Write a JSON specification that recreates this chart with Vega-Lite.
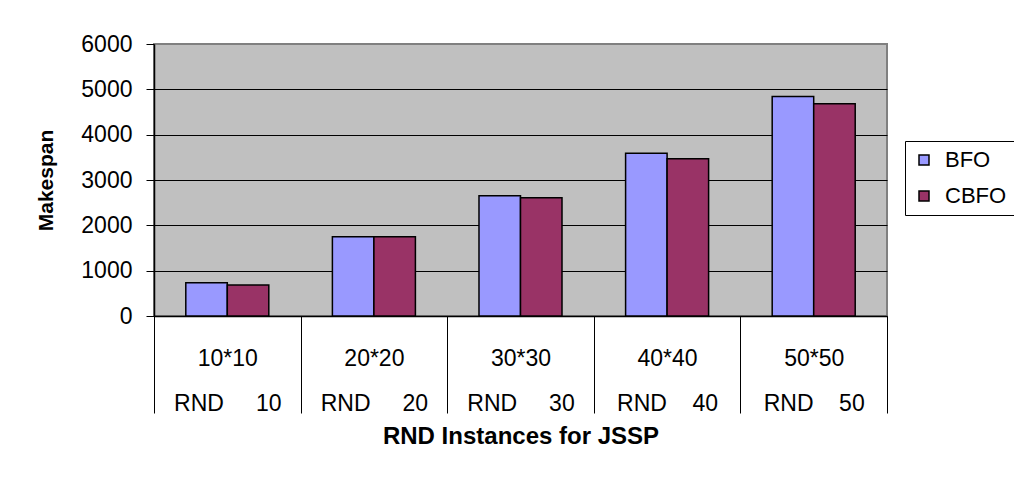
{
  "$schema": "https://vega.github.io/schema/vega-lite/v6.json",
  "width": 733,
  "height": 272,
  "autosize": "none",
  "padding": {"left": 154, "top": 44, "right": 127, "bottom": 163},
  "background": "white",
  "data": {
    "values": [
      {"instance": "10*10|RND\u00a0\u00a0\u00a0\u00a0\u00a010", "algorithm": "BFO", "makespan": 735},
      {"instance": "10*10|RND\u00a0\u00a0\u00a0\u00a0\u00a010", "algorithm": "CBFO", "makespan": 685},
      {"instance": "20*20|RND\u00a0\u00a0\u00a0\u00a0\u00a020", "algorithm": "BFO", "makespan": 1750},
      {"instance": "20*20|RND\u00a0\u00a0\u00a0\u00a0\u00a020", "algorithm": "CBFO", "makespan": 1750},
      {"instance": "30*30|RND\u00a0\u00a0\u00a0\u00a0\u00a030", "algorithm": "BFO", "makespan": 2655},
      {"instance": "30*30|RND\u00a0\u00a0\u00a0\u00a0\u00a030", "algorithm": "CBFO", "makespan": 2610},
      {"instance": "40*40|RND\u00a0\u00a0\u00a0\u00a040", "algorithm": "BFO", "makespan": 3590},
      {"instance": "40*40|RND\u00a0\u00a0\u00a0\u00a040", "algorithm": "CBFO", "makespan": 3470},
      {"instance": "50*50|RND\u00a0\u00a0\u00a0\u00a050", "algorithm": "BFO", "makespan": 4840},
      {"instance": "50*50|RND\u00a0\u00a0\u00a0\u00a050", "algorithm": "CBFO", "makespan": 4680}
    ]
  },
  "mark": {"type": "bar", "stroke": "black", "strokeWidth": 1.5},
  "encoding": {
    "x": {
      "field": "instance",
      "type": "nominal",
      "sort": null,
      "scale": {"paddingInner": 0, "paddingOuter": 0},
      "axis": {
        "title": "RND Instances for JSSP",
        "titleFontSize": 24,
        "titleFontWeight": "bold",
        "titleColor": "black",
        "titlePadding": 9,
        "labelAngle": 0,
        "labelExpr": "datum.value ? split(datum.value, '|') : ''",
        "labelFontSize": 23,
        "labelColor": "black",
        "labelBaseline": "alphabetic",
        "labelLineHeight": 45,
        "labelPadding": -48,
        "tickBand": "extent",
        "tickSize": 97,
        "tickColor": "black",
        "tickWidth": 1,
        "domainColor": "black",
        "domainWidth": 1.5
      }
    },
    "xOffset": {
      "field": "algorithm",
      "type": "nominal",
      "scale": {"paddingInner": 0, "paddingOuter": 0.766}
    },
    "y": {
      "field": "makespan",
      "type": "quantitative",
      "scale": {"domain": [0, 6000], "nice": false},
      "axis": {
        "title": "Makespan",
        "titleFontSize": 21,
        "titleFontWeight": "bold",
        "titleColor": "black",
        "titlePadding": 24,
        "values": [0, 1000, 2000, 3000, 4000, 5000, 6000],
        "format": "d",
        "labelFontSize": 23,
        "labelColor": "black",
        "labelPadding": 14,
        "tickSize": 8,
        "tickColor": "black",
        "domainColor": "black",
        "domainWidth": 1.5,
        "grid": true,
        "gridColor": {"condition": {"test": "datum.value == 6000", "value": "#808080"}, "value": "black"},
        "gridOpacity": 1,
        "gridWidth": 1
      }
    },
    "color": {
      "field": "algorithm",
      "type": "nominal",
      "scale": {"domain": ["BFO", "CBFO"], "range": ["#9999FF", "#993366"]},
      "legend": {
        "title": null,
        "orient": "none",
        "legendX": 751,
        "legendY": 97,
        "direction": "vertical",
        "strokeColor": "black",
        "fillColor": "white",
        "padding": 8,
        "symbolType": "square",
        "symbolSize": 100,
        "symbolStrokeColor": "black",
        "symbolStrokeWidth": 1.5,
        "symbolOpacity": 1,
        "labelFontSize": 22,
        "labelColor": "black",
        "labelOffset": 10,
        "rowPadding": 14
      }
    }
  },
  "config": {
    "font": "Liberation Sans",
    "view": {"fill": "#C0C0C0", "stroke": "#808080", "strokeWidth": 2}
  }
}
